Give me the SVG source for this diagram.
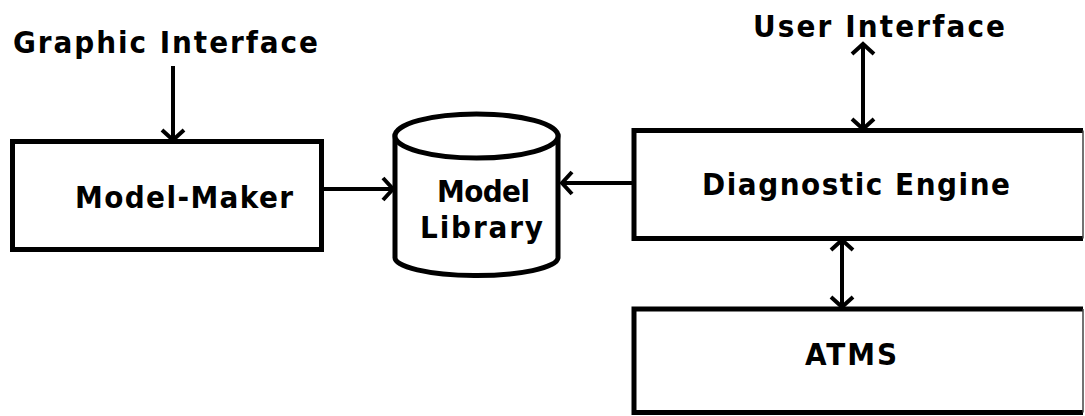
<svg xmlns="http://www.w3.org/2000/svg" width="1085" height="416" viewBox="0 0 1085 416">
  <style>
    .box { fill: #ffffff; stroke: #000000; stroke-width: 5; }
    .edge { fill: none; stroke: #000000; stroke-width: 5; stroke-linejoin: miter; }
    .thin { fill: none; stroke: #444444; stroke-width: 1.5; }
    .conn { fill: none; stroke: #000000; stroke-width: 4; }
    .lbl { font-family: "DejaVu Sans Condensed", "DejaVu Sans", "Liberation Sans", sans-serif; font-stretch: condensed; font-weight: bold; font-size: 31px; fill: #000000; }
  </style>
  <defs>
    <marker id="head" viewBox="-2 -14 16 28" refX="9" refY="0" markerWidth="16" markerHeight="28" markerUnits="userSpaceOnUse" orient="auto-start-reverse">
      <path d="M0,-11 L10,0 L0,11" fill="none" stroke="#000000" stroke-width="4" stroke-linejoin="miter"/>
    </marker>
  </defs>
  <rect width="1085" height="416" fill="#ffffff"/>

  <g id="graphic-interface">
    <text class="lbl" x="13" y="53" textLength="305" lengthAdjust="spacing">Graphic Interface</text>
  </g>

  <g id="user-interface">
    <text class="lbl" x="753" y="37" textLength="252" lengthAdjust="spacing">User Interface</text>
  </g>

  <g id="model-maker">
    <rect class="box" x="12.5" y="141.5" width="309" height="108"/>
    <text class="lbl" x="75" y="208" textLength="218" lengthAdjust="spacing">Model-Maker</text>
  </g>

  <g id="model-library">
    <path class="box" d="M395,136 L395,257 A81.5,18 0 0 0 558,258 L558,136 Z"/>
    <ellipse class="box" cx="476.5" cy="136" rx="81.5" ry="22"/>
    <text class="lbl" x="437" y="202" textLength="93" lengthAdjust="spacing">Model</text>
    <text class="lbl" x="420" y="238" textLength="123" lengthAdjust="spacing">Library</text>
  </g>

  <g id="diagnostic-engine">
    <rect x="634" y="130.5" width="449" height="108" fill="#ffffff"/>
    <path class="edge" d="M1083,130.5 H634 V238.5 H1083"/>
    <line class="thin" x1="1083" y1="130.5" x2="1083" y2="238.5"/>
    <text class="lbl" x="702" y="195" textLength="308" lengthAdjust="spacing">Diagnostic Engine</text>
  </g>

  <g id="atms">
    <rect x="634" y="309" width="449" height="103.5" fill="#ffffff"/>
    <path class="edge" d="M1083,309 H634 V412.5 H1083"/>
    <line class="thin" x1="1083" y1="309" x2="1083" y2="412.5"/>
    <text class="lbl" x="805" y="365" textLength="92" lengthAdjust="spacing">ATMS</text>
  </g>

  <g id="connectors">
    <line class="conn" x1="173" y1="66" x2="173" y2="139" marker-end="url(#head)"/>
    <line class="conn" x1="324" y1="189" x2="392" y2="189" marker-end="url(#head)"/>
    <line class="conn" x1="632" y1="183" x2="563" y2="183" marker-end="url(#head)"/>
    <line class="conn" x1="863" y1="45" x2="863" y2="128" marker-start="url(#head)" marker-end="url(#head)"/>
    <line class="conn" x1="842" y1="241" x2="842" y2="306" marker-start="url(#head)" marker-end="url(#head)"/>
  </g>
</svg>
